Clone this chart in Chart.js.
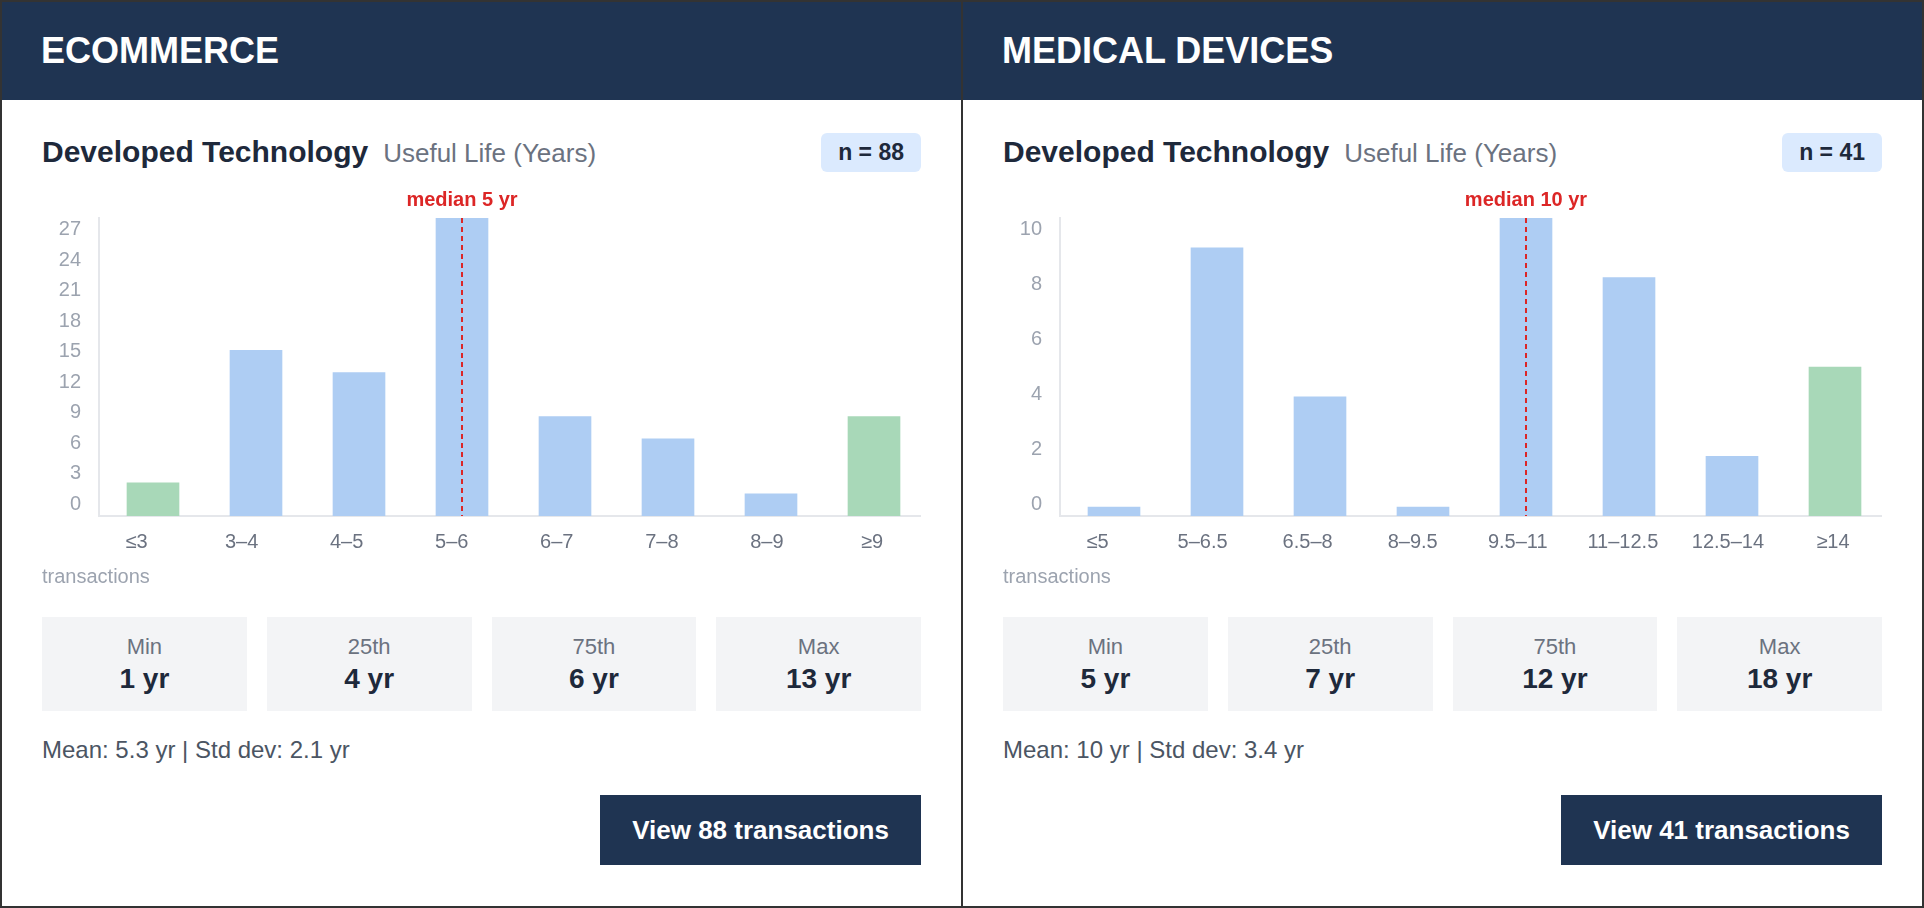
<!DOCTYPE html>
<html>
<head>
<meta charset="utf-8">
<script src="https://cdn.jsdelivr.net/npm/chart.js@4.4.1/dist/chart.umd.min.js"></script>
<style>
html,body{margin:0;padding:0;background:#fff;}
body{width:1924px;height:908px;overflow:hidden;font-family:"Liberation Sans",Arial,Helvetica,sans-serif;}
.wrap{position:absolute;left:0;top:0;width:1920px;height:904px;border:2px solid #333;background:#333;display:grid;grid-template-columns:959px 959px;column-gap:2px;}
.panel{position:relative;background:#fff;height:904px;overflow:hidden;}
.hdr{position:absolute;left:0;top:0;right:0;height:98px;background:#1f3452;color:#fff;font-weight:bold;font-size:36px;line-height:98px;padding-left:39px;}
.title{position:absolute;left:40px;top:132px;line-height:36px;font-size:30px;font-weight:bold;color:#1e293b;white-space:nowrap;}
.title .sub{font-size:26px;font-weight:normal;color:#6b7280;margin-left:15px;}
.badge{position:absolute;right:40px;top:131px;height:39px;line-height:39px;padding:0 17px;border-radius:6px;background:#dbeafe;color:#1e293b;font-weight:bold;font-size:23px;}
canvas{position:absolute;left:40px;top:178px;}
.txlabel{position:absolute;left:40px;top:562px;font-size:20px;line-height:24px;color:#9ca3af;}
.stats{position:absolute;left:40px;right:40px;top:615px;display:grid;grid-template-columns:repeat(4,1fr);column-gap:20px;}
.box{height:94px;background:#f3f4f6;box-sizing:border-box;padding-top:17px;text-align:center;}
.box .lab{font-size:22px;line-height:26px;color:#6b7280;}
.box .val{font-size:28px;line-height:32px;margin-top:3px;font-weight:bold;color:#1e293b;}
.mean{position:absolute;left:40px;top:734px;font-size:24px;line-height:28px;color:#4b5563;}
.btn{position:absolute;right:40px;top:793px;width:321px;height:70px;line-height:70px;text-align:center;background:#1f3452;color:#fff;font-weight:bold;font-size:26px;}
</style>
</head>
<body>
<div class="wrap">
  <div class="panel" id="p0"></div>
  <div class="panel" id="p1"></div>
</div>
<script>
// ---------- data ----------
const panelTitles = ['ECOMMERCE', 'MEDICAL DEVICES'];
const panelN = [88, 41];

const ecomLabels = ['≤3', '3–4', '4–5', '5–6', '6–7', '7–8', '8–9', '≥9'];
const ecomCounts = [3, 15, 13, 27, 9, 7, 2, 9];
const ecomTail = [1, 0, 0, 0, 0, 0, 0, 1];
const ecomTicks = [0, 3, 6, 9, 12, 15, 18, 21, 24, 27];
const ecomMedianBin = 3;
const ecomMedianText = 'median 5 yr';
const ecomStats = ['1 yr', '4 yr', '6 yr', '13 yr'];
const ecomMeanText = 'Mean: 5.3 yr | Std dev: 2.1 yr';

const medLabels = ['≤5', '5–6.5', '6.5–8', '8–9.5', '9.5–11', '11–12.5', '12.5–14', '≥14'];
const medCounts = [0, 9, 4, 0, 10, 8, 2, 5];
const medTail = [0, 0, 0, 0, 0, 0, 0, 1];
const medTicks = [0, 2, 4, 6, 8, 10];
const medMedianBin = 4;
const medMedianText = 'median 10 yr';
const medStats = ['5 yr', '7 yr', '12 yr', '18 yr'];
const medMeanText = 'Mean: 10 yr | Std dev: 3.4 yr';

const statNames = ['Min', '25th', '75th', 'Max'];

// ---------- rendering ----------
const FONT = '"Liberation Sans", Arial, Helvetica, sans-serif';
Chart.defaults.font.family = FONT;

const medianPlugin = {
  id: 'medianMarker',
  afterDatasetsDraw(chart, args, opts) {
    const ctx = chart.ctx, area = chart.chartArea;
    const x = Math.round(chart.scales.x.getPixelForValue(opts.index));
    ctx.save();
    ctx.strokeStyle = '#dc2626';
    ctx.lineWidth = 2;
    ctx.setLineDash([5, 4]);
    ctx.beginPath();
    ctx.moveTo(x, area.top);
    ctx.lineTo(x, area.bottom);
    ctx.stroke();
    ctx.setLineDash([]);
    ctx.fillStyle = '#dc2626';
    ctx.font = 'bold 20px ' + FONT;
    ctx.textAlign = 'center';
    ctx.textBaseline = 'alphabetic';
    ctx.fillText(opts.label, x, area.top - 12);
    ctx.restore();
  }
};

function buildPanel(idx, labels, counts, tail, ticks, medianBin, medianText, stats, meanText) {
  const p = document.getElementById('p' + idx);
  p.innerHTML =
    '<div class="hdr"></div>' +
    '<div class="title">Developed Technology<span class="sub">Useful Life (Years)</span></div>' +
    '<div class="badge"></div>' +
    '<canvas width="879" height="390"></canvas>' +
    '<div class="txlabel">transactions</div>' +
    '<div class="stats"></div>' +
    '<div class="mean"></div>' +
    '<div class="btn"></div>';
  p.querySelector('.hdr').textContent = panelTitles[idx];
  p.querySelector('.badge').textContent = 'n = ' + panelN[idx];
  p.querySelector('.mean').textContent = meanText;
  p.querySelector('.btn').textContent = 'View ' + panelN[idx] + ' transactions';
  const st = p.querySelector('.stats');
  statNames.forEach((nm, i) => {
    const b = document.createElement('div');
    b.className = 'box';
    b.innerHTML = '<div class="lab"></div><div class="val"></div>';
    b.querySelector('.lab').textContent = nm;
    b.querySelector('.val').textContent = stats[i];
    st.appendChild(b);
  });

  const top = ticks[ticks.length - 1];
  const f = 11.5 / 275;
  new Chart(p.querySelector('canvas'), {
    type: 'bar',
    data: {
      datasets: [{
        data: counts.map((v, i) => ({ x: i, y: v })),
        backgroundColor: tail.map(t => t ? '#a8d8b8' : '#aecdf3'),
        borderWidth: 0,
        barThickness: 52,
        minBarLength: 9,
        xAxisID: 'x',
        yAxisID: 'y'
      }]
    },
    options: {
      responsive: false,
      animation: false,
      devicePixelRatio: 1,
      layout: { padding: { top: 38, right: 1, left: 0, bottom: 0 } },
      plugins: {
        legend: { display: false },
        tooltip: { enabled: false },
        medianMarker: { index: medianBin, label: medianText }
      },
      scales: {
        x: { type: 'linear', display: false, offset: false, min: -54 / 103, max: 767 / 103,
             grid: { offset: false } },
        y: { type: 'linear', display: false, min: 0, max: top },
        yl: {
          axis: 'y', type: 'linear', position: 'left',
          min: -top * f, max: top * (1 + f),
          afterBuildTicks: s => { s.ticks = ticks.map(v => ({ value: v })); },
          afterFit: s => { s.width = 57; },
          grid: { display: false, drawTicks: false },
          border: { display: true, color: '#e5e7eb', width: 2 },
          ticks: { padding: 18, color: '#9ca3af', font: { size: 20 }, callback: v => String(v) }
        },
        xl: {
          axis: 'x', type: 'linear', position: 'bottom', offset: false,
          min: -37.5 / 105.07, max: 783.5 / 105.07,
          afterBuildTicks: s => { s.ticks = labels.map((l, i) => ({ value: i })); },
          afterFit: s => { s.height = 54; },
          grid: { display: false, drawTicks: false, offset: false },
          border: { display: true, color: '#e5e7eb', width: 2 },
          ticks: { padding: 14, color: '#6b7280', font: { size: 20 }, autoSkip: false, maxRotation: 0, minRotation: 0,
                   callback: (v, i) => labels[i] }
        }
      }
    },
    plugins: [medianPlugin]
  });
}

buildPanel(0, ecomLabels, ecomCounts, ecomTail, ecomTicks, ecomMedianBin, ecomMedianText, ecomStats, ecomMeanText);
buildPanel(1, medLabels, medCounts, medTail, medTicks, medMedianBin, medMedianText, medStats, medMeanText);
</script>
</body>
</html>
